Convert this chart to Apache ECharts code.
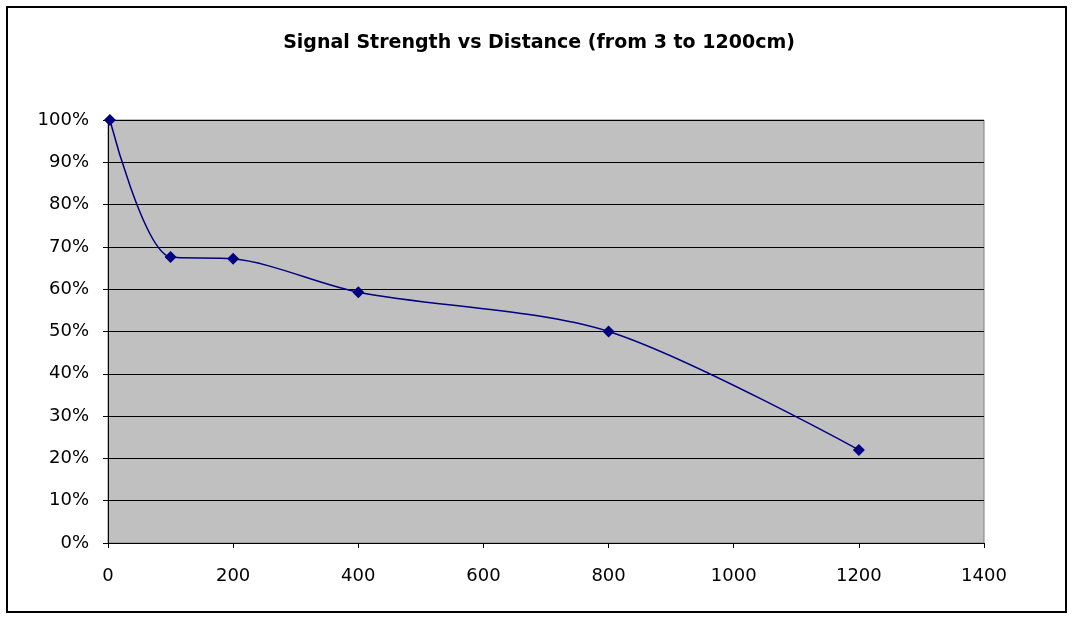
<!DOCTYPE html>
<html>
<head>
<meta charset="utf-8">
<script src="https://cdn.jsdelivr.net/npm/echarts@6/dist/echarts.min.js"></script>
<style>
  html, body { margin: 0; padding: 0; background: #fff; }
  #chart { width: 1072px; height: 619px; }
</style>
</head>
<body>
<div id="chart"></div>
<script>
// distance in cm
var distances = [3, 100, 200, 400, 800, 1200];
// signal strength in %
var strength = [100, 67.6, 67.2, 59.3, 50, 22];

var chart = echarts.init(document.getElementById('chart'));

chart.setOption({
  backgroundColor: '#fff',
  animation: false,
  title: {
    text: 'Signal Strength vs Distance (from 3 to 1200cm)',
    left: 534,
    top: 29,
    textAlign: 'center',
    textStyle: {
      fontFamily: 'DejaVu Sans',
      fontSize: 19,
      fontWeight: 'bold',
      color: '#000'
    }
  },
  graphic: [{
    type: 'rect',
    shape: { x: 7, y: 7, width: 1059, height: 605 },
    style: { fill: 'none', stroke: '#000', lineWidth: 2 },
    z: 100
  }],
  grid: {
    left: 108,
    right: 88,
    top: 120,
    bottom: 76,
    show: true,
    backgroundColor: '#c0c0c0',
    borderColor: '#808080',
    borderWidth: 1
  },
  xAxis: {
    type: 'value',
    min: 0,
    max: 1400,
    interval: 200,
    axisLine: { lineStyle: { color: '#000', width: 1 } },
    axisTick: { show: true, length: 5, lineStyle: { color: '#000' } },
    axisLabel: {
      fontFamily: 'DejaVu Sans',
      fontSize: 18,
      color: '#000',
      margin: 24,
      formatter: function (v) { return String(v); }
    },
    splitLine: { show: false }
  },
  yAxis: {
    type: 'value',
    min: 0,
    max: 100,
    interval: 10,
    axisLine: { show: true, lineStyle: { color: '#000', width: 1 } },
    axisTick: { show: true, length: 5, lineStyle: { color: '#000' } },
    axisLabel: {
      fontFamily: 'DejaVu Sans',
      fontSize: 18,
      color: '#000',
      margin: 19,
      formatter: '{value}%'
    },
    splitLine: { show: true, lineStyle: { color: '#000', width: 1 } }
  },
  series: [{
    type: 'line',
    data: distances.map(function (d, i) { return [d, strength[i]]; }),
    smooth: 0.3,
    symbol: 'diamond',
    symbolSize: 12,
    lineStyle: { color: '#000080', width: 1.5 },
    itemStyle: { color: '#000080' }
  }]
});
</script>
</body>
</html>
